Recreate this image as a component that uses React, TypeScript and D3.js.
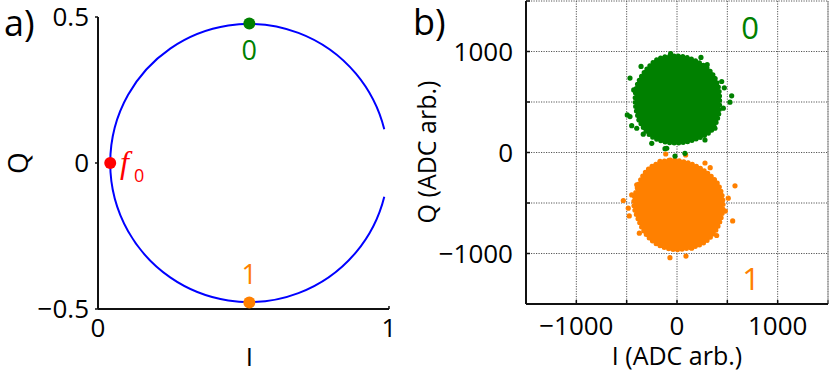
import * as d3 from 'd3';

const W = 830;
const H = 377;
const FONT = '"Open Sans", "Noto Sans", sans-serif';

// ---- panel a: resonance circle in the IQ plane
const aXTicks = [0, 1];
const aXTickLabels = ['0', '1'];
const aYTicks = [-0.5, 0, 0.5];
const aYTickLabels = ['−0.5', '0', '0.5'];
const circleCenter = [0.52, 0];
const circleRadius = 0.478;
const circleGapDeg = 14;
const stateI = [0.52, 0.042, 0.52];
const stateQ = [0.478, 0, -0.478];
const stateColors = ['#008000', '#ff0000', '#ff8000'];

// ---- panel b: single-shot readout clouds
const bTicks = [-1500, -1000, -500, 0, 500, 1000, 1500];
const bLabelTicks = [-1000, 0, 1000];
const bTickLabels = ['−1000', '0', '1000'];

const greenHull = [
  [-180, 930], [13, 955], [172, 915], [332, 803], [407, 664], [424, 506], [407, 348], [332, 207],
  [172, 127], [13, 94], [-145, 111], [-270, 172], [-365, 298], [-414, 476], [-397, 664], [-303, 822],
];
const greenDots = [
  [-467, 737], [-357, 852], [-63, 978], [238, 941], [543, 561], [526, 498], [460, 439], [444, 703],
  [-467, 356], [-450, 266], [-377, 323], [-335, 181], [-251, 91], [79, -8], [377, 240], [278, 124],
  [-494, 372], [-400, 240], [-102, 42], [-20, -35], [-119, 38], [-430, 620], [470, 640], [300, 870],
];
const orangeHull = [
  [-225, -123], [-66, -75], [124, -107], [280, -187], [407, -313], [457, -487], [440, -643], [377, -785],
  [265, -896], [124, -945], [-35, -961], [-192, -912], [-302, -818], [-380, -675], [-430, -502], [-380, -313],
  [-318, -200],
];
const orangeDots = [
  [576, -330], [553, -677], [-533, -475], [-484, -551], [-474, -628], [-374, -799], [-70, -1041], [89, -1025],
  [146, -948], [278, -104], [-169, -87], [394, -822], [509, -452], [-400, -320], [-112, -15], [86, -25],
  [480, -580], [-450, -420], [330, -150],
];

const xa = d3.scaleLinear().domain([0, 1]).range([98, 389]);
const ya = d3.scaleLinear().domain([-0.5, 0.5]).range([309, 17]);
const xb = d3.scaleLinear().domain([-1500, 1500]).range([526, 828]);
const yb = d3.scaleLinear().domain([-1500, 1500]).range([304, 1]);

function circlePath() {
  const p = d3.path();
  const r = xa(circleRadius) - xa(0);
  const g = (circleGapDeg * Math.PI) / 180;
  const cx = xa(circleCenter[0]);
  const cy = ya(circleCenter[1]);
  p.moveTo(cx + r * Math.cos(g), cy + r * Math.sin(g));
  p.arc(cx, cy, r, g, 2 * Math.PI - g);
  return p.toString();
}

const hullLine = d3
  .line<number[]>()
  .x((d) => xb(d[0]))
  .y((d) => yb(d[1]))
  .curve(d3.curveCatmullRomClosed);

function Cloud({ hull, dots, color }: { hull: number[][]; dots: number[][]; color: string }) {
  return (
    <g>
      <path d={hullLine(hull) || ''} fill={color} stroke={color} strokeWidth={5}
        strokeDasharray="0 4.5" strokeLinecap="round" />
      {dots.map((d, i) => (
        <circle key={i} cx={xb(d[0])} cy={yb(d[1])} r={2.6} fill={color} />
      ))}
    </g>
  );
}

export default function App() {
  return (
    <svg width={W} height={H} style={{ position: 'absolute', left: 0, top: 0, background: '#fff' }}
      fontFamily={FONT}>
      {/* ---------- panel a ---------- */}
      <text x={4} y={36} fontSize={36}>a)</text>
      <path d={circlePath()} fill="none" stroke="#0000ff" strokeWidth={2} />
      <line x1={xa(0)} x2={xa(0)} y1={ya(0.5)} y2={ya(-0.5)} stroke="#111" strokeWidth={2} />
      <line x1={xa(0)} x2={xa(1)} y1={ya(-0.5)} y2={ya(-0.5)} stroke="#111" strokeWidth={2} />
      {aYTicks.map((t, i) => (
        <g key={i}>
          <line x1={xa(0) - 3} x2={xa(0)} y1={ya(t)} y2={ya(t)} stroke="#111" strokeWidth={1.5} />
          <text x={89} y={ya(t)} dy="0.35em" textAnchor="end" fontSize={26}>{aYTickLabels[i]}</text>
        </g>
      ))}
      {aXTicks.map((t, i) => (
        <g key={i}>
          <line x1={xa(t)} x2={xa(t)} y1={ya(-0.5)} y2={ya(-0.5) - 3} stroke="#111" strokeWidth={1.5} />
          <text x={xa(t)} y={337} textAnchor="middle" fontSize={26}>{aXTickLabels[i]}</text>
        </g>
      ))}
      <text x={xa(0.52)} y={366} textAnchor="middle" fontSize={26}>I</text>
      <text transform="translate(28,163) rotate(-90)" textAnchor="middle" fontSize={28}>Q</text>
      {stateI.map((v, i) => (
        <circle key={i} cx={xa(v)} cy={ya(stateQ[i])} r={6} fill={stateColors[i]} />
      ))}
      <text x={xa(stateI[0])} y={60} textAnchor="middle" fontSize={27} fill={stateColors[0]}>0</text>
      <text x={xa(stateI[2])} y={284} textAnchor="middle" fontSize={27} fill={stateColors[2]}>1</text>
      <text x={120} y={173} fontSize={32} fontStyle="italic" fontFamily='"Liberation Serif", serif'
        fill={stateColors[1]}>f</text>
      <text x={134} y={182} fontSize={18} fill={stateColors[1]}>0</text>

      {/* ---------- panel b ---------- */}
      <text x={413} y={35} fontSize={36}>b)</text>
      {bTicks.map((t) => (
        <g key={t}>
          <line x1={xb(t)} x2={xb(t)} y1={yb(1500)} y2={yb(-1500)} stroke="#555" strokeWidth={1}
            strokeDasharray="1.2 1.3" />
          <line x1={xb(-1500)} x2={xb(1500)} y1={yb(t)} y2={yb(t)} stroke="#555" strokeWidth={1}
            strokeDasharray="1.2 1.3" />
          <line x1={xb(t)} x2={xb(t)} y1={yb(-1500)} y2={yb(-1500) - 4} stroke="#111" strokeWidth={1.5} />
          <line x1={xb(-1500)} x2={xb(-1500) + 4} y1={yb(t)} y2={yb(t)} stroke="#111" strokeWidth={1.5} />
        </g>
      ))}
      <line x1={xb(1500)} x2={xb(1500)} y1={yb(1500)} y2={yb(-1500)} stroke="#999" strokeWidth={1} />
      <Cloud hull={orangeHull} dots={orangeDots} color="#ff8000" />
      <Cloud hull={greenHull} dots={greenDots} color="#008000" />
      <line x1={xb(-1500)} x2={xb(-1500)} y1={yb(1500)} y2={yb(-1500)} stroke="#111" strokeWidth={2} />
      <line x1={xb(-1500)} x2={xb(1500)} y1={yb(-1500)} y2={yb(-1500)} stroke="#111" strokeWidth={2} />
      {bLabelTicks.map((t, i) => (
        <g key={t}>
          <text x={513} y={yb(t)} dy="0.35em" textAnchor="end" fontSize={26}>{bTickLabels[i]}</text>
          <text x={xb(t)} y={335} textAnchor="middle" fontSize={26}>{bTickLabels[i]}</text>
        </g>
      ))}
      <text x={xb(0)} y={365} textAnchor="middle" fontSize={25}>I (ADC arb.)</text>
      <text transform="translate(436,152) rotate(-90)" textAnchor="middle" fontSize={25}>Q (ADC arb.)</text>
      <text x={750} y={39} textAnchor="middle" fontSize={31} fill="#008000">0</text>
      <text x={751} y={290} textAnchor="middle" fontSize={31} fill="#ff8000">1</text>
    </svg>
  );
}
